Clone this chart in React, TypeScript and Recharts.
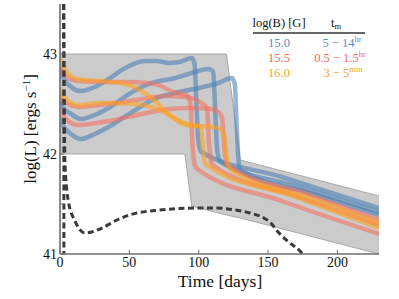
import React from "react";
import { ComposedChart, Area, Line, XAxis, YAxis } from "recharts";

const SERIF = "'Liberation Serif', 'DejaVu Serif', serif";

const X_TICKS = [0, 50, 100, 150, 200];
const Y_TICKS = [41, 41.5, 42, 42.5, 43];

// gray envelope
const bandDays = [0, 90, 95, 120, 130, 230];
const bandLow = [42, 42, 41.48, 41.39, 41.36, 41.0];
const bandHigh = [43, 43, 43, 43, 41.94, 41.58];

// log(B) = 15.0
const blue1 = [[0, 42.86], [1.5, 42.79], [8, 42.67], [15, 42.63], [25, 42.67], [35, 42.75], [47, 42.86], [61, 42.93], [70, 42.93], [78, 42.91], [86, 42.92], [95, 42.96], [97, 42.9], [98.5, 42.45], [100, 42.1], [102, 42.02], [160, 41.77], [230, 41.46]];
const blue2 = [[0, 42.55], [1.5, 42.48], [8, 42.4], [15, 42.35], [25, 42.39], [35, 42.46], [51, 42.61], [66, 42.71], [83, 42.76], [95, 42.81], [107, 42.85], [110.5, 42.82], [112, 42.4], [113.5, 42.02], [116, 41.92], [170, 41.68], [230, 41.42]];
const blue3 = [[0, 42.36], [1.5, 42.3], [8, 42.2], [15, 42.15], [25, 42.2], [35, 42.27], [51, 42.41], [68, 42.55], [83, 42.61], [100, 42.66], [114, 42.71], [124, 42.76], [126, 42.7], [127.5, 42.25], [129, 41.9], [131, 41.83], [180, 41.61], [230, 41.39]];

// log(B) = 15.5
const red1 = [[0, 42.86], [1.5, 42.82], [6, 42.76], [13, 42.73], [30, 42.72], [50, 42.72], [62, 42.71], [71, 42.69], [80, 42.63], [88, 42.6], [92, 42.58], [94, 42.5], [95.5, 42.1], [97, 41.9], [99, 41.85], [160, 41.53], [230, 41.2]];
const red2 = [[0, 42.6], [1.5, 42.55], [6, 42.5], [13, 42.47], [35, 42.5], [59, 42.55], [76, 42.58], [90, 42.57], [102, 42.51], [106, 42.46], [107.5, 42.1], [109, 41.92], [111, 41.88], [170, 41.58], [230, 41.29]];
const red3 = [[0, 42.45], [1.5, 42.4], [6, 42.33], [13, 42.29], [35, 42.33], [59, 42.4], [78, 42.45], [95, 42.46], [109, 42.45], [115, 42.41], [117, 42.35], [118.5, 42.05], [120, 41.9], [122, 41.88], [180, 41.59], [230, 41.34]];

// log(B) = 16.0
const orange1 = [[0, 42.96], [1.5, 42.9], [7, 42.79], [13, 42.75], [29, 42.73], [47, 42.7], [61, 42.61], [71, 42.5], [80, 42.38], [87, 42.31], [95, 42.28], [100, 42.28], [102, 42.22], [103.5, 41.98], [105, 41.9], [107, 41.88], [170, 41.57], [230, 41.26]];
const orange2 = [[0, 42.66], [1.5, 42.6], [7, 42.52], [13, 42.49], [29, 42.51], [53, 42.5], [70, 42.45], [80, 42.38], [90, 42.31], [100, 42.28], [110, 42.27], [116, 42.25], [118.5, 42.18], [120, 41.98], [121.5, 41.88], [123.5, 41.84], [180, 41.56], [230, 41.31]];

// dashed black curves
const dashA = [[2.8, 43.5], [2.8, 41.0]];
const dashB = [[2.5, 43.5], [3.6, 41.9], [6, 41.53], [10.8, 41.33], [18, 41.21], [28.9, 41.25], [41, 41.34], [50, 41.39], [72, 41.44], [100, 41.46], [113, 41.46], [121, 41.45], [137, 41.41], [147, 41.36], [152, 41.31], [156, 41.24], [164, 41.13], [173, 41.03], [175, 41.0]];

const BLUE = "#4a7fb5";
const RED = "#f4705e";
const ORANGE = "#ffa11c";

const band = bandDays.map((d, i) => ({ d, r: [bandLow[i], bandHigh[i]] }));
const pts = (a: number[][]) => a.map(([d, v]) => ({ d, v }));

const series = [
  { key: "b1", data: blue1, color: BLUE },
  { key: "b2", data: blue2, color: BLUE },
  { key: "b3", data: blue3, color: BLUE },
  { key: "r1", data: red1, color: RED },
  { key: "r2", data: red2, color: RED },
  { key: "r3", data: red3, color: RED },
  { key: "o1", data: orange1, color: ORANGE },
  { key: "o2", data: orange2, color: ORANGE },
];

const SPINE = { stroke: "#6e6e6e", strokeWidth: 1.6 };

function XTick({ x, y, payload }: any) {
  return (
    <text x={x} y={y + 10} textAnchor="middle" fontSize={14} fontFamily={SERIF} fill="#111">
      {payload.value}
    </text>
  );
}

function YTick({ x, y, payload }: any) {
  if (!Number.isInteger(payload.value)) return <g />;
  return (
    <text x={x} y={y + 5} textAnchor="end" fontSize={14} fontFamily={SERIF} fill="#111">
      {payload.value}
    </text>
  );
}

export default function App() {
  return (
    <div style={{ position: "relative", width: 399, height: 299, fontFamily: SERIF }}>
      <style>{"body{margin:0;background:#fff}"}</style>
      <ComposedChart width={399} height={299} margin={{ top: 4, right: 20, bottom: 0, left: 0 }}>
        <XAxis xAxisId="b" type="number" dataKey="d" domain={[0, 230]} ticks={X_TICKS} height={45}
          axisLine={SPINE} tickLine={{ stroke: "#6e6e6e" }} tickSize={-4} tickMargin={7} tick={<XTick />} allowDataOverflow />
        <XAxis xAxisId="t" orientation="top" type="number" domain={[0, 230]} ticks={X_TICKS} height={0}
          axisLine={SPINE} tickLine={{ stroke: "#6e6e6e" }} tickSize={-4} tick={false} allowDataOverflow />
        <YAxis yAxisId="l" type="number" domain={[41, 43.5]} ticks={Y_TICKS} width={60}
          axisLine={SPINE} tickLine={{ stroke: "#6e6e6e" }} tickSize={-4} tickMargin={7} tick={<YTick />} allowDataOverflow />
        <YAxis yAxisId="r" orientation="right" type="number" domain={[41, 43.5]} ticks={Y_TICKS} width={0}
          axisLine={SPINE} tickLine={{ stroke: "#6e6e6e" }} tickSize={-4} tick={false} allowDataOverflow />
        <Area xAxisId="b" yAxisId="l" data={band} dataKey="r" type="linear" fill="#cbcbcb" fillOpacity={1}
          stroke="#a8a8a8" strokeWidth={1} isAnimationActive={false} />
        {series.map((s) => (
          <Line key={s.key} xAxisId="b" yAxisId="l" data={pts(s.data)} dataKey="v" type="monotone"
            stroke={s.color} strokeOpacity={0.58} strokeWidth={4.5} dot={false} isAnimationActive={false} />
        ))}
        <Line xAxisId="b" yAxisId="l" data={pts(dashA)} dataKey="v" type="linear" stroke="#3a3a3a"
          strokeWidth={3} strokeDasharray="6 3.5" dot={false} isAnimationActive={false} />
        <Line xAxisId="b" yAxisId="l" data={pts(dashB)} dataKey="v" type="monotone" stroke="#3a3a3a"
          strokeWidth={3} strokeDasharray="6 3.5" dot={false} isAnimationActive={false} />
      </ComposedChart>
      <svg width={399} height={299} style={{ position: "absolute", left: 0, top: 0, pointerEvents: "none" }}
        fontFamily={SERIF}>
        <text x={220} y={287} textAnchor="middle" fontSize={17.5} fill="#111">Time [days]</text>
        <text transform="translate(36,129) rotate(-90)" textAnchor="middle" fontSize={17} fill="#111">
          log(L) [ergs s<tspan dy={-6} fontSize={11}>−1</tspan><tspan dy={6}>]</tspan>
        </text>
        <text x={279} y={27} textAnchor="middle" fontSize={12.5} fill="#111">log(B) [G]</text>
        <text x={336} y={27} textAnchor="middle" fontSize={12.5} fill="#111">t<tspan dy={2} fontSize={8.5}>m</tspan></text>
        <line x1={253} x2={365} y1={33} y2={33} stroke="#333" strokeWidth={1.5} />
        <text x={279} y={47} textAnchor="middle" fontSize={12.5} fill="#5b8dc1">15.0</text>
        <text x={342} y={47} textAnchor="middle" fontSize={12.5} fill="#5b8dc1">5 − 14<tspan dy={-5} fontSize={8.5}>hr</tspan></text>
        <text x={279} y={62} textAnchor="middle" fontSize={12.5} fill="#f26b5b">15.5</text>
        <text x={340} y={62} textAnchor="middle" fontSize={12.5} fill="#f26b5b">0.5 − 1.5<tspan dy={-5} fontSize={8.5}>hr</tspan></text>
        <text x={279} y={77} textAnchor="middle" fontSize={12.5} fill="#f7a520">16.0</text>
        <text x={343} y={77} textAnchor="middle" fontSize={12.5} fill="#f7a520">3 − 5<tspan dy={-5} fontSize={8.5}>min</tspan></text>
      </svg>
    </div>
  );
}
